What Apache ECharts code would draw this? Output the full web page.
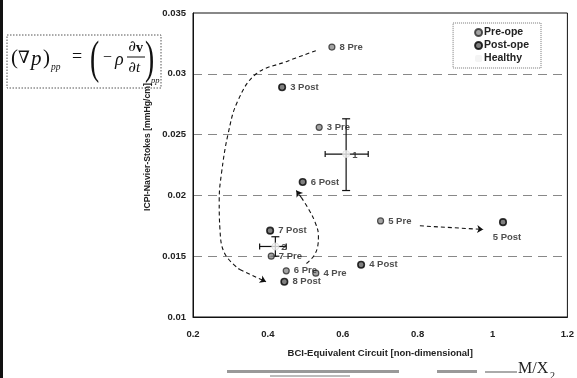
<!DOCTYPE html>
<html><head><meta charset="utf-8">
<script src="https://cdn.jsdelivr.net/npm/echarts@6/dist/echarts.min.js"></script>
<style>html,body{margin:0;padding:0;background:#fff}#c{width:577px;height:378px}</style>
</head><body><div id="c"></div>
<script>
// ---- data ----
const preLabels  = ['8 Pre', '3 Pre', '5 Pre', '7 Pre', '6 Pre', '4 Pre'];
const preX       = [0.571, 0.537, 0.701, 0.409, 0.449, 0.528];
const preY       = [0.0322, 0.0256, 0.0179, 0.0150, 0.0138, 0.0136];
const postLabels = ['3 Post', '6 Post', '7 Post', '5 Post', '4 Post', '8 Post'];
const postX      = [0.438, 0.493, 0.406, 1.028, 0.649, 0.444];
const postY      = [0.0289, 0.0211, 0.0171, 0.0178, 0.0143, 0.0129];
const healthyLabels = ['1', '2'];
const healthyX   = [0.609, 0.420];
const healthyY   = [0.0234, 0.0158];
const healthyXLo = [0.553, 0.378];
const healthyXHi = [0.668, 0.449];
const healthyYLo = [0.0204, 0.0150];
const healthyYHi = [0.0263, 0.0166];
// dashed trajectory arrows
const arrow8 = [[0.528,0.0319],[0.449,0.0310],[0.369,0.0300],[0.320,0.0278],[0.294,0.0251],[0.276,0.0218],[0.270,0.0196],[0.272,0.0172],[0.285,0.0152],[0.325,0.0139],[0.395,0.0129]];
const arrow6 = [[0.503,0.0144],[0.522,0.0150],[0.533,0.0158],[0.535,0.0167],[0.526,0.0178],[0.510,0.0188],[0.490,0.0198],[0.476,0.0204]];
const arrow5 = [[0.806,0.0175],[0.975,0.0172]];
const xTicks = {min: 0.2, max: 1.2, interval: 0.2};
const yTicks = {min: 0.01, max: 0.035, interval: 0.005};

// ---- chart ----
const FONT = 'Liberation Sans, Arial, sans-serif';
const SERIF = 'Liberation Serif, serif';
const labelStyle = {show: true, position: 'right', distance: 4, fontFamily: FONT, fontWeight: 'bold', fontSize: 9.5, color: '#222', formatter: p => p.name};
const labelOverrides = {'5 Post': {position: 'bottom', distance: 6, offset: [4, 0]}};
function pts(xs, ys, names) {
  return xs.map((x, i) => {
    const d = {name: names[i], value: [x, ys[i]]};
    if (labelOverrides[names[i]]) d.label = labelOverrides[names[i]];
    return d;
  });
}
function arrowSeries(path) {
  const out = [];
  if (path.length > 2) {
    out.push({type: 'line', data: path.slice(0, path.length - 1), smooth: 0.4, showSymbol: false, silent: true,
      lineStyle: {color: '#111', width: 1.1, type: [4, 3]}, z: 1});
  }
  out.push({type: 'lines', coordinateSystem: 'cartesian2d', silent: true, z: 1,
    symbol: ['none', 'arrow'], symbolSize: 6,
    lineStyle: {color: '#111', width: 1.1, type: [4, 3], opacity: 1},
    data: [{coords: [path[path.length - 2], path[path.length - 1]]}]});
  return out;
}
function eqText(x, y, text, size, extra) {
  return {type: 'text', x: x, y: y, z: 10, style: Object.assign({text: text, fontFamily: SERIF, fontSize: size, fill: '#111',
    verticalAlign: 'middle', textVerticalAlign: 'middle'}, extra || {})};
}
const chart = echarts.init(document.getElementById('c'), null, {renderer: 'canvas'});
const healthyData = healthyX.map((x, i) => [x, healthyY[i], healthyXLo[i], healthyXHi[i], healthyYLo[i], healthyYHi[i]]);

const option = {
  animation: false,
  backgroundColor: '#fff',
  grid: {left: 193, right: 7, top: 13, bottom: 61, show: true, borderColor: '#111', borderWidth: 1},
  xAxis: {type: 'value', min: xTicks.min, max: xTicks.max, interval: xTicks.interval,
    axisLine: {show: true, lineStyle: {color: '#111'}}, axisTick: {show: false}, splitLine: {show: false},
    axisLabel: {fontFamily: FONT, fontWeight: 'bold', fontSize: 9.5, color: '#222', margin: 12},
    name: 'BCI-Equivalent Circuit [non-dimensional]', nameLocation: 'middle', nameGap: 31,
    nameTextStyle: {fontFamily: FONT, fontWeight: 'bold', fontSize: 9.5, color: '#222'}},
  yAxis: {type: 'value', min: yTicks.min, max: yTicks.max, interval: yTicks.interval,
    axisLine: {show: true, lineStyle: {color: '#111'}}, axisTick: {show: false},
    splitLine: {show: true, lineStyle: {color: '#888', type: [9, 6], width: 1}},
    axisLabel: {fontFamily: FONT, fontWeight: 'bold', fontSize: 9.5, color: '#222', margin: 7}},
  legend: {right: 36, top: 23, orient: 'vertical', itemGap: 2, itemWidth: 7, itemHeight: 7,
    padding: [4, 12, 4, 21], borderColor: '#777', borderWidth: 1, borderType: 'dotted',
    textStyle: {fontFamily: FONT, fontWeight: 'bold', fontSize: 10.5, color: '#222', padding: [0, 0, 0, -3], lineHeight: 10},
    data: ['Pre-ope', 'Post-ope', 'Healthy']},
  series: [
    ...arrowSeries(arrow8), ...arrowSeries(arrow6), ...arrowSeries(arrow5),
    {name: 'Healthy', type: 'custom', z: 3, data: healthyData,
      renderItem: function (params, api) {
        const c = api.coord([api.value(0), api.value(1)]);
        const l = api.coord([api.value(2), api.value(1)]);
        const r = api.coord([api.value(3), api.value(1)]);
        const b = api.coord([api.value(0), api.value(4)]);
        const t = api.coord([api.value(0), api.value(5)]);
        const st = {stroke: '#111', lineWidth: 1.2};
        const cap = 3;
        return {type: 'group', children: [
          {type: 'line', shape: {x1: l[0], y1: c[1], x2: r[0], y2: c[1]}, style: st},
          {type: 'line', shape: {x1: l[0], y1: c[1] - cap, x2: l[0], y2: c[1] + cap}, style: st},
          {type: 'line', shape: {x1: r[0], y1: c[1] - cap, x2: r[0], y2: c[1] + cap}, style: st},
          {type: 'line', shape: {x1: c[0], y1: b[1], x2: c[0], y2: t[1]}, style: st},
          {type: 'line', shape: {x1: c[0] - cap - 1, y1: b[1], x2: c[0] + cap + 1, y2: b[1]}, style: st},
          {type: 'line', shape: {x1: c[0] - cap - 1, y1: t[1], x2: c[0] + cap + 1, y2: t[1]}, style: st}
        ]};
      },
      itemStyle: {color: '#f4f4f4', borderColor: '#ddd'}},
    {name: 'Healthy', type: 'scatter', z: 4, symbol: 'circle', symbolSize: 7,
      data: pts(healthyX, healthyY, healthyLabels),
      itemStyle: {color: '#f4f4f4', borderColor: '#dddddd', borderWidth: 1},
      label: Object.assign({}, labelStyle, {distance: 2, offset: [0, 1]})},
    {name: 'Pre-ope', type: 'scatter', z: 5, symbol: 'circle', symbolSize: 6,
      data: pts(preX, preY, preLabels),
      itemStyle: {color: '#8c8c8c', borderColor: '#2a2a2a', borderWidth: 1.2},
      label: labelStyle},
    {name: 'Post-ope', type: 'scatter', z: 5, symbol: 'circle', symbolSize: 6.5,
      data: pts(postX, postY, postLabels),
      itemStyle: {color: '#606060', borderColor: '#000', borderWidth: 1.6},
      label: labelStyle}
  ],
  graphic: [
    {type: 'rect', shape: {x: 0, y: 0, width: 3, height: 378}, style: {fill: '#111'}, z: 10},
    {type: 'text', x: 148, y: 147, rotation: Math.PI / 2, z: 10,
      style: {text: 'ICPI-Navier-Stokes [mmHg/cm]', fontFamily: FONT, fontWeight: 'bold', fontSize: 8.7, fill: '#222',
        align: 'center', verticalAlign: 'middle', textAlign: 'center', textVerticalAlign: 'middle'}},
    // equation box
    {type: 'rect', shape: {x: 7, y: 35, width: 154, height: 53}, style: {fill: 'none', stroke: '#555', lineWidth: 1, lineDash: [1.5, 1.5]}, z: 10},
    eqText(11, 58, '(', 21),
    eqText(18, 59, '∇', 17, {fontFamily: 'DejaVu Serif, serif'}),
    eqText(31, 59, 'p', 21, {fontStyle: 'italic'}),
    eqText(43, 58, ')', 21),
    eqText(51, 67, 'pp', 9.5, {fontStyle: 'italic'}),
    eqText(72, 57, '=', 18),
    {type: 'text', x: 90, y: 61, z: 10, scaleX: 0.6, style: {text: '(', fontFamily: SERIF, fontSize: 46, fill: '#111', verticalAlign: 'middle', textVerticalAlign: 'middle'}},
    eqText(103, 58, '−', 16),
    eqText(115, 60, 'ρ', 18, {fontStyle: 'italic'}),
    eqText(136, 47, '∂', 15, {fontFamily: 'DejaVu Serif, serif', align: 'right', textAlign: 'right'}),
    eqText(136, 48, 'v', 14, {fontWeight: 'bold'}),
    {type: 'line', shape: {x1: 127, y1: 57, x2: 145, y2: 57}, style: {stroke: '#111', lineWidth: 1}, z: 10},
    eqText(136, 68, '∂', 15, {fontFamily: 'DejaVu Serif, serif', align: 'right', textAlign: 'right'}),
    eqText(136, 68, 't', 15, {fontStyle: 'italic'}),
    {type: 'text', x: 145, y: 61, z: 10, scaleX: 0.6, style: {text: ')', fontFamily: SERIF, fontSize: 46, fill: '#111', verticalAlign: 'middle', textVerticalAlign: 'middle'}},
    eqText(151, 81, 'pp', 8.5, {fontStyle: 'italic'}),
    // faint scanned footer remnants
    {type: 'rect', shape: {x: 227, y: 370, width: 172, height: 3}, style: {fill: '#999'}, z: 10},
    {type: 'rect', shape: {x: 270, y: 375, width: 80, height: 2}, style: {fill: '#bbb'}, z: 10},
    {type: 'rect', shape: {x: 437, y: 370, width: 40, height: 3}, style: {fill: '#999'}, z: 10},
    {type: 'rect', shape: {x: 485, y: 371, width: 32, height: 2}, style: {fill: '#aaa'}, z: 10},
    {type: 'text', x: 518, y: 369, z: 10, style: {text: 'M/X', fontFamily: SERIF, fontSize: 16, fill: '#222', verticalAlign: 'middle', textVerticalAlign: 'middle'}},
    {type: 'text', x: 550, y: 376, z: 10, style: {text: '2', fontFamily: SERIF, fontSize: 10, fill: '#222', verticalAlign: 'middle', textVerticalAlign: 'middle'}}
  ]
};
chart.setOption(option);
</script></body></html>
